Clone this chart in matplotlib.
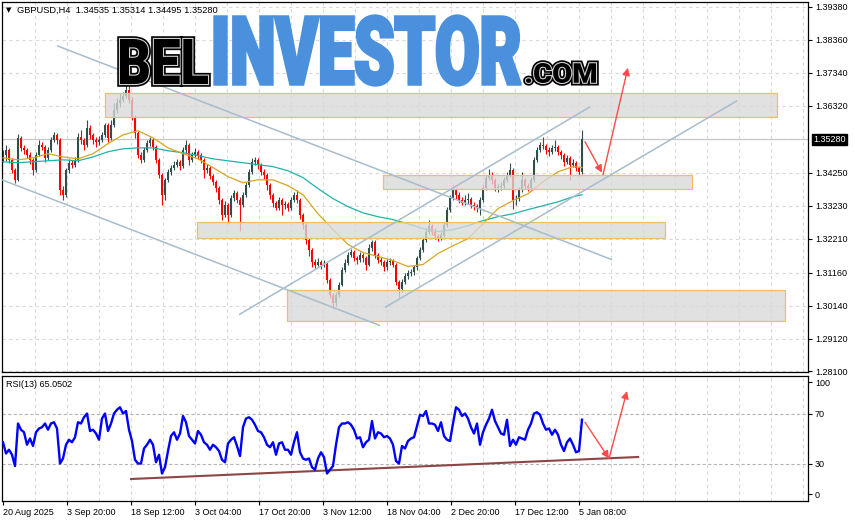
import matplotlib
matplotlib.use("Agg")
import matplotlib.pyplot as plt
import numpy as np
from matplotlib.patches import Rectangle, PathPatch, FancyArrowPatch
from matplotlib.textpath import TextPath
from matplotlib.font_manager import FontProperties
from matplotlib.transforms import Affine2D, blended_transform_factory
import matplotlib.patheffects as pe

# ---------------- data (GBPUSD H4, aggregated bars) ----------------
close = [1.3481, 1.3496, 1.3465, 1.3434, 1.3403, 1.3533, 1.3502, 1.3496, 1.3481, 1.3465,
         1.3434, 1.3481, 1.3512, 1.3505, 1.3471, 1.3496, 1.3527, 1.3542, 1.3527, 1.3372,
         1.3357, 1.3434, 1.3456, 1.3450, 1.3465, 1.3536, 1.3527, 1.3512, 1.3564, 1.3542,
         1.3527, 1.3521, 1.3527, 1.3542, 1.3573, 1.3533, 1.3573, 1.3620, 1.3641, 1.3651,
         1.3663, 1.3682, 1.3651, 1.3598, 1.3549, 1.3481, 1.3465, 1.3496, 1.3518, 1.3527,
         1.3505, 1.3465, 1.3419, 1.3357, 1.3403, 1.3428, 1.3441, 1.3450, 1.3459, 1.3447,
         1.3496, 1.3512, 1.3465, 1.3481, 1.3490, 1.3481, 1.3465, 1.3434, 1.3441, 1.3416,
         1.3397, 1.3379, 1.3342, 1.3295, 1.3326, 1.3295, 1.3348, 1.3363, 1.3342, 1.3326,
         1.3357, 1.3388, 1.3428, 1.3459, 1.3465, 1.3450, 1.3428, 1.3419, 1.3388, 1.3357,
         1.3332, 1.3317, 1.3342, 1.3326, 1.3329, 1.3317, 1.3342, 1.3357, 1.3342, 1.3295,
         1.3264, 1.3218, 1.3187, 1.3150, 1.3141, 1.3150, 1.3141, 1.3144, 1.3094, 1.3048,
         1.3023, 1.3048, 1.3079, 1.3125, 1.3147, 1.3172, 1.3181, 1.3162, 1.3156, 1.3172,
         1.3162, 1.3141, 1.3193, 1.3212, 1.3172, 1.3156, 1.3150, 1.3132, 1.3150, 1.3153,
         1.3141, 1.3088, 1.3064, 1.3088, 1.3107, 1.3116, 1.3119, 1.3132, 1.3162, 1.3187,
         1.3218, 1.3243, 1.3261, 1.3243, 1.3230, 1.3224, 1.3233, 1.3264, 1.3311, 1.3348,
         1.3372, 1.3357, 1.3342, 1.3332, 1.3342, 1.3345, 1.3326, 1.3323, 1.3317, 1.3342,
         1.3379, 1.3410, 1.3419, 1.3403, 1.3379, 1.3382, 1.3385, 1.3403, 1.3419, 1.3434,
         1.3342, 1.3345, 1.3372, 1.3403, 1.3385, 1.3379, 1.3403, 1.3465, 1.3496, 1.3512,
         1.3508, 1.3496, 1.3490, 1.3502, 1.3505, 1.3490, 1.3481, 1.3459, 1.3471, 1.3450,
         1.3456, 1.3441, 1.3428, 1.3528]
first_open = 1.3465
high = [1.3496, 1.3512, 1.3502, 1.3470, 1.3440, 1.3545, 1.3540, 1.3512, 1.3503, 1.3488,
        1.3470, 1.3490, 1.3527, 1.3521, 1.3510, 1.3505, 1.3536, 1.3552, 1.3549, 1.3533,
        1.3385, 1.3441, 1.3468, 1.3465, 1.3474, 1.3549, 1.3558, 1.3533, 1.3589, 1.3573,
        1.3549, 1.3536, 1.3540, 1.3552, 1.3580, 1.3579, 1.3589, 1.3641, 1.3657, 1.3672,
        1.3676, 1.3700, 1.3722, 1.3660, 1.3605, 1.3555, 1.3490, 1.3505, 1.3527, 1.3536,
        1.3533, 1.3512, 1.3471, 1.3425, 1.3410, 1.3437, 1.3450, 1.3462, 1.3468, 1.3465,
        1.3505, 1.3527, 1.3518, 1.3490, 1.3502, 1.3496, 1.3487, 1.3471, 1.3453, 1.3447,
        1.3422, 1.3403, 1.3385, 1.3348, 1.3338, 1.3332, 1.3357, 1.3372, 1.3369, 1.3351,
        1.3366, 1.3397, 1.3437, 1.3471, 1.3474, 1.3471, 1.3456, 1.3437, 1.3425, 1.3394,
        1.3363, 1.3338, 1.3351, 1.3348, 1.3338, 1.3335, 1.3351, 1.3366, 1.3372, 1.3348,
        1.3301, 1.3270, 1.3224, 1.3193, 1.3159, 1.3162, 1.3156, 1.3156, 1.3150, 1.3100,
        1.3054, 1.3057, 1.3088, 1.3134, 1.3159, 1.3181, 1.3190, 1.3187, 1.3168, 1.3181,
        1.3178, 1.3168, 1.3203, 1.3218, 1.3218, 1.3178, 1.3165, 1.3156, 1.3159, 1.3162,
        1.3159, 1.3147, 1.3094, 1.3097, 1.3116, 1.3125, 1.3128, 1.3141, 1.3168, 1.3196,
        1.3227, 1.3255, 1.3280, 1.3267, 1.3255, 1.3236, 1.3243, 1.3273, 1.3320, 1.3357,
        1.3388, 1.3379, 1.3366, 1.3351, 1.3357, 1.3363, 1.3351, 1.3335, 1.3329, 1.3351,
        1.3388, 1.3419, 1.3437, 1.3428, 1.3410, 1.3391, 1.3397, 1.3413, 1.3428, 1.3456,
        1.3441, 1.3357, 1.3382, 1.3428, 1.3410, 1.3394, 1.3413, 1.3474, 1.3505, 1.3521,
        1.3536, 1.3515, 1.3505, 1.3512, 1.3527, 1.3512, 1.3496, 1.3487, 1.3481, 1.3477,
        1.3468, 1.3462, 1.3447, 1.3558]
low = [1.3458, 1.3462, 1.3456, 1.3425, 1.3394, 1.3398, 1.3493, 1.3484, 1.3472, 1.3453,
       1.3419, 1.3428, 1.3476, 1.3494, 1.3459, 1.3465, 1.3490, 1.3521, 1.3515, 1.3357,
       1.3342, 1.3350, 1.3425, 1.3440, 1.3443, 1.3459, 1.3515, 1.3496, 1.3505, 1.3530,
       1.3515, 1.3505, 1.3512, 1.3521, 1.3536, 1.3521, 1.3527, 1.3567, 1.3611, 1.3630,
       1.3645, 1.3657, 1.3642, 1.3589, 1.3533, 1.3471, 1.3456, 1.3459, 1.3490, 1.3508,
       1.3496, 1.3456, 1.3410, 1.3326, 1.3342, 1.3397, 1.3419, 1.3434, 1.3443, 1.3434,
       1.3441, 1.3487, 1.3450, 1.3459, 1.3474, 1.3468, 1.3456, 1.3410, 1.3425, 1.3406,
       1.3388, 1.3366, 1.3329, 1.3280, 1.3289, 1.3271, 1.3289, 1.3338, 1.3332, 1.3246,
       1.3320, 1.3351, 1.3382, 1.3422, 1.3450, 1.3437, 1.3419, 1.3406, 1.3372, 1.3345,
       1.3320, 1.3311, 1.3311, 1.3295, 1.3314, 1.3308, 1.3311, 1.3335, 1.3332, 1.3283,
       1.3252, 1.3206, 1.3168, 1.3132, 1.3129, 1.3135, 1.3128, 1.3132, 1.3085, 1.3036,
       1.3008, 1.3014, 1.3042, 1.3073, 1.3119, 1.3141, 1.3165, 1.3153, 1.3144, 1.3150,
       1.3150, 1.3125, 1.3135, 1.3184, 1.3162, 1.3147, 1.3138, 1.3122, 1.3125, 1.3141,
       1.3132, 1.3079, 1.3039, 1.3057, 1.3082, 1.3097, 1.3104, 1.3110, 1.3125, 1.3156,
       1.3181, 1.3212, 1.3236, 1.3233, 1.3221, 1.3215, 1.3218, 1.3227, 1.3258, 1.3304,
       1.3342, 1.3345, 1.3332, 1.3326, 1.3326, 1.3329, 1.3317, 1.3311, 1.3304, 1.3295,
       1.3335, 1.3372, 1.3403, 1.3391, 1.3369, 1.3366, 1.3372, 1.3379, 1.3397, 1.3413,
       1.3314, 1.3326, 1.3338, 1.3366, 1.3376, 1.3369, 1.3372, 1.3397, 1.3459, 1.3490,
       1.3499, 1.3484, 1.3478, 1.3484, 1.3493, 1.3481, 1.3468, 1.3447, 1.3453, 1.3403,
       1.3443, 1.3431, 1.3419, 1.3422]

# moving averages sampled every 5 bars (last at bar 193)
ma_idx = [0, 5, 10, 15, 20, 25, 30, 35, 40, 45, 50, 55, 60, 65, 70, 75, 80, 85, 90, 95,
          100, 105, 110, 115, 120, 125, 130, 135, 140, 145, 150, 155, 160, 165, 170, 175,
          180, 185, 190, 193]
ma_fast = [1.3471, 1.3465, 1.3471, 1.3484, 1.3474, 1.3468, 1.3484, 1.3515, 1.3542, 1.3555,
           1.3533, 1.3502, 1.3484, 1.3468, 1.3441, 1.3413, 1.3394, 1.3403, 1.3403, 1.3385,
           1.3357, 1.3298, 1.3249, 1.3203, 1.3178, 1.3166, 1.3153, 1.3135, 1.3141, 1.3175,
           1.3199, 1.3221, 1.3267, 1.3314, 1.3339, 1.3360, 1.3397, 1.3428, 1.3444, 1.3441]
ma_slow = [1.3459, 1.3456, 1.3459, 1.3462, 1.3465, 1.3462, 1.3474, 1.3490, 1.3499, 1.3502,
           1.3502, 1.3493, 1.3487, 1.3478, 1.3468, 1.3462, 1.3456, 1.3450, 1.3444, 1.3431,
           1.3410, 1.3376, 1.3345, 1.3320, 1.3301, 1.3289, 1.3280, 1.3267, 1.3252, 1.3243,
           1.3249, 1.3261, 1.3277, 1.3289, 1.3298, 1.3311, 1.3323, 1.3335, 1.3351, 1.3357]

rsi = [47, 38, 41, 37, 28, 62, 57, 55, 45, 50,
       44, 55, 58, 59, 62, 57, 62, 63, 58, 30,
       34, 45, 49, 47, 51, 63, 62, 67, 70, 56,
       57, 54, 49, 66, 70, 56, 62, 70, 73, 75,
       70, 72, 57, 48, 33, 30, 30, 42, 45, 49,
       45, 31, 37, 22, 27, 40, 52, 55, 49, 54,
       68, 63, 52, 49, 46, 56, 53, 47, 45, 41,
       45, 43, 40, 33, 31, 46, 49, 51, 44, 36,
       59, 66, 67, 65, 61, 56, 55, 51, 45, 43,
       47, 37, 46, 47, 41, 41, 37, 47, 55, 39,
       34, 33, 34, 27, 25, 34, 39, 35, 22, 25,
       28, 45, 59, 62, 62, 63, 61, 57, 50, 51,
       43, 47, 49, 64, 50, 55, 54, 51, 52, 50,
       45, 32, 30, 44, 42, 48, 50, 51, 60, 69,
       68, 72, 62, 62, 61, 56, 63, 52, 49, 48,
       62, 75, 73, 68, 70, 66, 59, 54, 62, 45,
       55, 61, 66, 73, 64, 59, 54, 53, 65, 44,
       49, 45, 51, 50, 49, 57, 62, 70, 71, 69,
       62, 57, 58, 53, 57, 53, 45, 40, 47, 50,
       45, 39, 40, 65.0502]

price_ticks = [1.3938, 1.3836, 1.3734, 1.3632, 1.3425, 1.3323, 1.3221, 1.3116, 1.3014, 1.2912, 1.2810]
last_price = 1.3528
header_vals = [1.34535, 1.35314, 1.34495, 1.35280]
date_labels = ["20 Aug 2025", "3 Sep 20:00", "18 Sep 12:00", "3 Oct 04:00", "17 Oct 20:00",
               "3 Nov 12:00", "18 Nov 04:00", "2 Dec 20:00", "17 Dec 12:00", "5 Jan 08:00"]

# analysis drawings (bar index, price)
zones = [(34.0, 258.0, 1.3597, 1.3673), (126.7, 229.7, 1.3376, 1.3417),
         (64.7, 220.7, 1.3224, 1.3274), (94.7, 260.7, 1.2966, 1.3062)]
trend_lines = [((18.0, 1.3818), (203.0, 1.3156)), ((-0.3, 1.3403), (125.7, 1.2952)),
               ((78.7, 1.2986), (195.7, 1.3629)), ((127.3, 1.3008), (244.7, 1.3648))]
price_arrows = [((194.0, 1.3521), (199.7, 1.3425)), ((200.0, 1.3419), (208.3, 1.3750))]
rsi_arrows = [((194.0, 63.0), (202.0, 34.0)), ((202.0, 34.0), (208.0, 88.0))]
rsi_trend = ((42.7, 17.6), (211.7, 35.2))

# ---------------- figure ----------------
W, H = 855, 521
fig = plt.figure(figsize=(W / 100, H / 100), dpi=100)
fig.patch.set_facecolor("white")
FONT = "Liberation Sans"


def fbox(x0, y0, x1, y1):
    return [x0 / W, 1 - y1 / H, (x1 - x0) / W, (y1 - y0) / H]


ax = fig.add_axes(fbox(2, 2, 808, 372))
rx = fig.add_axes(fbox(2, 376, 808, 501))

n = min(len(close), len(high), len(low))
idx = np.arange(n)
c = np.array(close[:n])
o = np.array([first_open] + close[:n - 1])
hi = np.maximum(np.array(high[:n]), np.maximum(o, c))
lo = np.minimum(np.array(low[:n]), np.minimum(o, c))
bull = c >= o
cols = np.where(bull, "#2f4f4f", "#ff0000")

XMIN, XMAX = -1 / 3, 805 / 3
for a in (ax, rx):
    a.set_xlim(XMIN, XMAX)
    for s in a.spines.values():
        s.set_color("black")
        s.set_linewidth(0.9)

ax.set_ylim(1.28084, 1.39534)

grid_kw = dict(color="#d9d9d9", lw=0.8, ls=(0, (3, 3)), zorder=0)
vgrid = [32 * k / 3 for k in range(1, 26)]
for v in vgrid:
    ax.axvline(v, **grid_kw)
    rx.axvline(v, **grid_kw)
for p in price_ticks + [1.3530]:
    ax.axhline(p, **grid_kw)
ax.axhline(last_price, color="#c8c8c8", lw=0.9, zorder=0.5)

# candles
ax.vlines(idx, lo, hi, colors=cols, lw=0.8, zorder=2)
ax.bar(idx, np.maximum(np.abs(c - o), 0.00012), bottom=np.minimum(o, c), width=0.8,
       color=cols, linewidth=0, zorder=2.1)

# moving averages
ax.plot(ma_idx, ma_slow, color="#20b2aa", lw=0.9, zorder=3)
ax.plot(ma_idx, ma_fast, color="#daa520", lw=0.9, zorder=3)

# zones
for x0, x1, p0, p1 in zones:
    ax.add_patch(Rectangle((x0, p0), x1 - x0, p1 - p0, facecolor=(0.85, 0.85, 0.85, 0.78),
                           edgecolor="#f0c060", lw=0.9, zorder=4))

# trend lines
for (x0, p0), (x1, p1) in trend_lines:
    ax.plot([x0, x1], [p0, p1], color="#a9bccb", lw=1.1, zorder=5, solid_capstyle="butt")

for (x0, p0), (x1, p1) in price_arrows:
    ax.add_patch(FancyArrowPatch((x0, p0), (x1, p1), arrowstyle="-|>", mutation_scale=11,
                                 color="#ff4a4a", lw=1.0, zorder=6, shrinkA=0, shrinkB=0))

# y axis (price)
ax.yaxis.tick_right()
ax.set_yticks(price_ticks)
ax.set_yticklabels([f"{p:.5f}" for p in price_ticks], fontsize=6.5, family=FONT)
ax.tick_params(axis="y", length=3, width=0.8, pad=2, colors="black")
ax.set_xticks([])
ax.annotate(f"{last_price:.5f}", xy=(1.0, last_price), xycoords=blended_transform_factory(ax.transAxes, ax.transData),
            xytext=(5, 0), textcoords="offset pixels", va="center", ha="left", fontsize=6.5, family=FONT,
            color="white", bbox=dict(boxstyle="square,pad=0.15", facecolor="black", edgecolor="black"),
            annotation_clip=False)

# ---------------- RSI ----------------
m = min(len(rsi), n)
rx.set_ylim(0, 100)
rx.axhline(70, color="#b4b4b4", lw=0.8, ls=(0, (3, 2)), zorder=0.5)
rx.axhline(30, color="#b4b4b4", lw=0.8, ls=(0, (3, 2)), zorder=0.5)
rx.plot(np.arange(m), rsi[:m], color="#0000ff", lw=1.7, zorder=3)
(rx0, rv0), (rx1, rv1) = rsi_trend
rx.plot([rx0, rx1], [rv0, rv1], color="#8e4545", lw=1.5, zorder=2.5)
for (x0, p0), (x1, p1) in rsi_arrows:
    rx.add_patch(FancyArrowPatch((x0, p0), (x1, p1), arrowstyle="-|>", mutation_scale=11,
                                 color="#ff4a4a", lw=1.0, zorder=6, shrinkA=0, shrinkB=0))
rx.yaxis.tick_right()
rx.set_yticks([95, 70, 30, 5.5])
rx.set_yticklabels(["100", "70", "30", "0"], fontsize=6.5, family=FONT)
rx.tick_params(axis="y", length=3, width=0.8, pad=2)
rx.set_xticks([64 * k / 3 for k in range(len(date_labels))])
rx.set_xticklabels(date_labels, fontsize=6.5, family=FONT, ha="left")
rx.tick_params(axis="x", length=3, width=0.8, pad=2)
rx.text(4 / 806 * (XMAX - XMIN) + XMIN, 93, f"RSI(13) {rsi[-1]:.4f}", fontsize=6.5, family=FONT,
        va="center", ha="left")

# header
fig.text(6 / W, 1 - 10 / H, "\u25bc", fontsize=5, family="DejaVu Sans", va="center")
fig.text(17 / W, 1 - 10 / H, "GBPUSD,H4  " + " ".join(f"{v:.5f}" for v in header_vals),
         fontsize=6.7, family=FONT, va="center")

# ---------------- watermark ----------------
ov = fig.add_axes([0, 0, 1, 1])
ov.set_xlim(0, W)
ov.set_ylim(H, 0)
ov.axis("off")
ov.patch.set_visible(False)


def fit_text(s, box, color, outline):
    fp = FontProperties(family=["Roboto", "DejaVu Sans"], weight=900)
    tp = TextPath((0, 0), s, size=100, prop=fp)
    bb = tp.get_extents()
    x0, y0, x1, y1 = box
    tr = Affine2D().translate(-bb.x0, -bb.y0).scale((x1 - x0) / bb.width, -(y1 - y0) / bb.height).translate(x0, y1)
    patch = PathPatch(tr.transform_path(tp), facecolor=color, edgecolor="none", zorder=20)
    if outline:
        patch.set_path_effects([pe.Stroke(linewidth=4.0, foreground="black"),
                                pe.Stroke(linewidth=1.6, foreground="#d0d0d0"), pe.Normal()])
    else:
        patch.set_path_effects([pe.Stroke(linewidth=2.4, foreground=color), pe.Normal()])
    ov.add_patch(patch)


fit_text("BEL", (120, 39, 208, 84), "black", True)
fit_text("INVESTOR", (215, 16, 520, 85), "#4a90dd", False)
fit_text(".COM", (526, 63, 596, 83), "black", True)

fig.savefig("out.png", dpi=100, facecolor="white")
